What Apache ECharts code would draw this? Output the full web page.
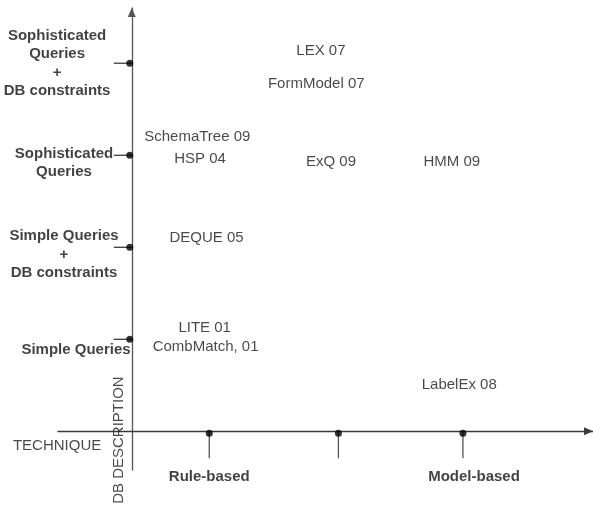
<!DOCTYPE html>
<html>
<head>
<meta charset="utf-8">
<script src="https://cdn.jsdelivr.net/npm/echarts@6/dist/echarts.min.js"></script>
<style>
  html, body { margin: 0; padding: 0; background: #fff; }
  #chart { width: 593px; height: 506px; }
</style>
</head>
<body>
<div id="chart"></div>
<script>
// technique axis: tick positions (Rule-based, middle, Model-based)
var techniqueTicks = [0.84, 2.24, 3.59];
var techniqueNames = ['Rule-based', 'Model-based'];
var techniqueNameX = [0.84, 3.71];

// description axis levels
var levelTicks = [1, 2, 3, 4];
var levelNames = [
  'Simple Queries',
  'Simple Queries\n+\nDB constraints',
  'Sophisticated\nQueries',
  'Sophisticated\nQueries\n+\nDB constraints'
];
var levelNameX = [-0.605, -0.735, -0.735, -0.81];
var levelNameY = [0.89, 1.92, 2.92, 4.0];

// systems placed in the plane
var systems = ['LEX 07', 'FormModel 07', 'SchemaTree 09', 'HSP 04', 'ExQ 09', 'HMM 09',
  'DEQUE 05', 'LITE 01', 'CombMatch, 01', 'LabelEx 08'];
var systemX = [2.05, 2.00, 0.71, 0.74, 2.16, 3.47, 0.81, 0.79, 0.80, 3.55];
var systemY = [4.13, 3.78, 3.20, 2.96, 2.93, 2.93, 2.10, 1.12, 0.92, 0.51];

var FONT = "'Liberation Sans', Arial, sans-serif";
var LINE = '#3a3a3a';

var chart = echarts.init(document.getElementById('chart'));

var option = {
  animation: false,
  grid: { left: 58, right: 0, top: 8, bottom: 36 },
  xAxis: {
    type: 'value', min: -0.8, max: 5.0,
    axisLine: { show: true, onZero: true, symbol: ['none', 'triangle'], symbolSize: [8, 9],
      symbolOffset: [0, -4.5], lineStyle: { color: LINE, width: 1.3 } },
    axisTick: { show: false }, axisLabel: { show: false }, splitLine: { show: false }
  },
  yAxis: {
    type: 'value', min: -0.42, max: 4.6,
    axisLine: { show: true, onZero: true, symbol: ['none', 'triangle'], symbolSize: [8, 9],
      symbolOffset: [0, -4.5], lineStyle: { color: '#555', width: 1.3 } },
    axisTick: { show: false }, axisLabel: { show: false }, splitLine: { show: false }
  },
  series: [
    {
      // stems below the technique ticks
      type: 'custom',
      data: techniqueTicks.map(function (v) { return [v, 0]; }),
      renderItem: function (params, api) {
        var p = api.coord([api.value(0), api.value(1)]);
        return { type: 'line', shape: { x1: p[0], y1: p[1], x2: p[0], y2: p[1] + 27 },
          style: { stroke: '#555', lineWidth: 1.3 } };
      }
    },
    {
      // stems left of the description ticks
      type: 'custom',
      data: levelTicks.map(function (v) { return [0, v]; }),
      renderItem: function (params, api) {
        var p = api.coord([api.value(0), api.value(1)]);
        return { type: 'line', shape: { x1: p[0] - 18, y1: p[1], x2: p[0], y2: p[1] },
          style: { stroke: LINE, lineWidth: 1.3 } };
      }
    },
    {
      type: 'scatter',
      symbolSize: 7,
      symbolOffset: [0, 2],
      itemStyle: { color: '#000' },
      data: techniqueTicks.map(function (v) { return [v, 0]; })
    },
    {
      type: 'scatter',
      symbolSize: 7,
      symbolOffset: [-2, 0],
      itemStyle: { color: '#000' },
      data: levelTicks.map(function (v) { return [0, v]; })
    },
    {
      type: 'scatter',
      symbolSize: 0,
      clip: false,
      label: { show: true, position: 'inside', formatter: '{b}', color: '#1a1a1a',
        fontFamily: FONT, fontSize: 15 },
      data: systems.map(function (n, i) { return { name: n, value: [systemX[i], systemY[i]] }; })
    },
    {
      type: 'scatter',
      symbolSize: 0,
      clip: false,
      label: { show: true, position: 'inside', formatter: '{b}', color: '#111',
        fontFamily: FONT, fontSize: 15, fontWeight: 'bold', lineHeight: 18.5, align: 'center' },
      data: levelNames.map(function (n, i) { return { name: n, value: [levelNameX[i], levelNameY[i]] }; })
        .concat(techniqueNames.map(function (n, i) { return { name: n, value: [techniqueNameX[i], -0.49] }; }))
    },
    {
      type: 'scatter',
      symbolSize: 0,
      clip: false,
      label: { show: true, position: 'inside', formatter: '{b}', color: '#1a1a1a',
        fontFamily: FONT, fontSize: 15 },
      data: [
        { name: 'TECHNIQUE', value: [-0.81, -0.16] },
        { name: 'DB DESCRIPTION', value: [-0.144, -0.095], label: { rotate: 90 } }
      ]
    }
  ]
};

chart.setOption(option);
</script>
</body>
</html>
